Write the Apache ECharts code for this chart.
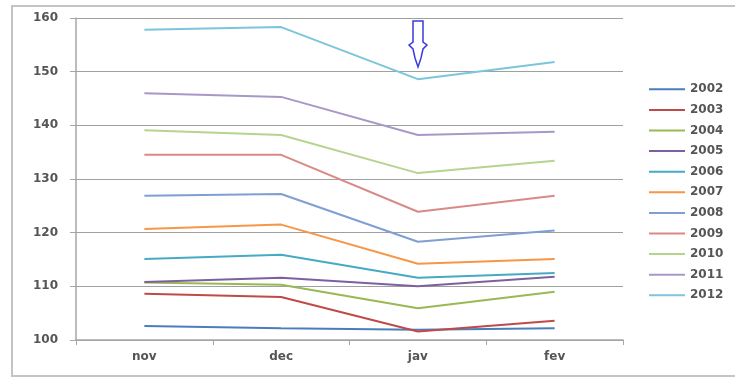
<!DOCTYPE html>
<html>
<head>
<meta charset="utf-8">
<script src="https://cdn.jsdelivr.net/npm/echarts@6/dist/echarts.min.js"></script>
<style>html,body{margin:0;padding:0;background:#fff}#c{width:735px;height:378px}</style>
</head>
<body>
<div id="c"></div>
<script>
var categories = ['nov', 'dec', 'jav', 'fev'];
var years = ['2002','2003','2004','2005','2006','2007','2008','2009','2010','2011','2012'];
var v2002 = [102.6, 102.2, 101.9, 102.2];
var v2003 = [108.6, 108.0, 101.6, 103.6];
var v2004 = [110.7, 110.3, 105.9, 109.0];
var v2005 = [110.8, 111.6, 110.0, 111.8];
var v2006 = [115.1, 115.9, 111.6, 112.5];
var v2007 = [120.7, 121.5, 114.2, 115.1];
var v2008 = [126.9, 127.2, 118.3, 120.4];
var v2009 = [134.5, 134.5, 123.9, 126.9];
var v2010 = [139.1, 138.2, 131.1, 133.4];
var v2011 = [146.0, 145.3, 138.2, 138.8];
var v2012 = [157.8, 158.3, 148.6, 151.8];
var yTicks = [100, 110, 120, 130, 140, 150, 160];

var values = [v2002, v2003, v2004, v2005, v2006, v2007, v2008, v2009, v2010, v2011, v2012];
var colors = ['#4A7EBB','#BE4B48','#98B954','#7D60A0','#46AAC5','#F79646','#7F9FD3','#D98A87','#B5D48E','#A898C8','#7CC5DC'];

var chart = echarts.init(document.getElementById('c'), null, {renderer: 'canvas'});
var labelStyle = {color: '#555', fontWeight: 'bold', fontSize: 12, fontFamily: 'DejaVu Sans'};
chart.setOption({
  animation: false,
  color: colors,
  grid: {left: 76, right: 112, top: 18, bottom: 38, containLabel: false},
  legend: {
    orient: 'vertical', left: 644, top: 77,
    itemWidth: 36, itemHeight: 2, itemGap: 6,
    icon: 'rect',
    data: years,
    textStyle: Object.assign({lineHeight: 14.6, padding: [0,0,0,0]}, labelStyle)
  },
  xAxis: {
    type: 'category', data: categories, boundaryGap: true,
    axisLine: {show: true, lineStyle: {color: '#a6a6a6', width: 1.5}},
    axisTick: {show: true, length: 5, lineStyle: {color: '#a6a6a6'}},
    axisLabel: Object.assign({margin: 11}, labelStyle),
    splitLine: {show: false}
  },
  yAxis: {
    type: 'value', min: yTicks[0], max: yTicks[yTicks.length-1], interval: 10,
    axisLine: {show: true, lineStyle: {color: '#a6a6a6', width: 1.5}},
    axisTick: {show: true, length: 6, lineStyle: {color: '#a6a6a6'}},
    axisLabel: Object.assign({margin: 18}, labelStyle),
    splitLine: {show: true, lineStyle: {color: '#a0a0a0', width: 1.2}}
  },
  series: years.map(function (y, i) {
    return {
      name: y, type: 'line', data: values[i], symbol: 'none',
      lineStyle: {width: 2, color: colors[i]}, itemStyle: {color: colors[i]}
    };
  }),
  graphic: [
    {type: 'rect', shape: {x: 12, y: 6, width: 740, height: 370}, style: {fill: 'none', stroke: '#c4c4c4', lineWidth: 2}, silent: true, z: -1},
    {type: 'polygon', shape: {points: [[413,21],[423,21],[423,42],[427,45],[423,49],[421,58],[418,67],[415,58],[413,49],[409,45],[413,42]]},
     style: {fill: '#fff', stroke: '#3a3ae0', lineWidth: 1.5}, z: 100}
  ]
});
</script>
</body>
</html>
